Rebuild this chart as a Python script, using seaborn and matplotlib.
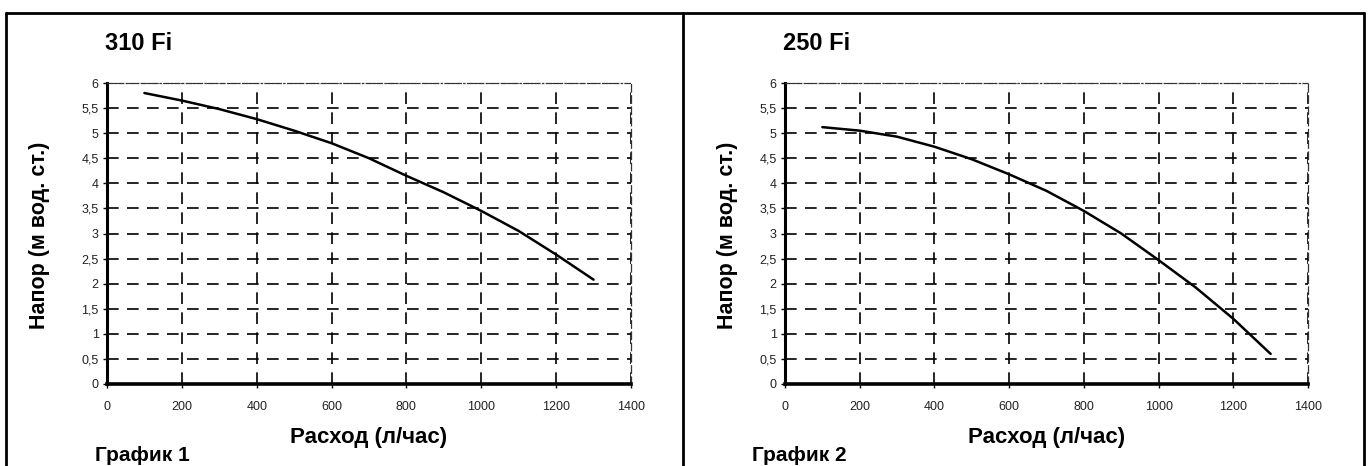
import matplotlib
matplotlib.use("Agg")
import matplotlib.pyplot as plt
import seaborn as sns
import pandas as pd
from matplotlib.lines import Line2D

# ---- data ----
flow_lph = [100, 200, 300, 400, 500, 600, 700, 800, 900, 1000, 1100, 1200, 1300]
head_310fi = [5.80, 5.65, 5.48, 5.28, 5.05, 4.80, 4.50, 4.15, 3.82, 3.45, 3.05, 2.58, 2.08]
head_250fi = [5.12, 5.05, 4.93, 4.73, 4.48, 4.18, 3.85, 3.45, 3.00, 2.47, 1.92, 1.30, 0.60]
panel_titles = ["310 Fi", "250 Fi"]
chart_captions = ["График 1", "График 2"]
x_ticks = [0, 200, 400, 600, 800, 1000, 1200, 1400]
y_ticks = [0, 0.5, 1, 1.5, 2, 2.5, 3, 3.5, 4, 4.5, 5, 5.5, 6]
y_tick_labels = ["0", "0,5", "1", "1,5", "2", "2,5", "3", "3,5", "4", "4,5", "5", "5,5", "6"]
x_label = "Расход (л/час)"
y_label = "Напор (м вод. ст.)"

sns.set_theme(style="white")
plt.rcParams['font.family'] = ['Liberation Sans', 'DejaVu Sans']

W, H = 1370, 466
fig = plt.figure(figsize=(W / 100, H / 100), dpi=100)

def fx(px):
    return px / W

def fy(py):
    return 1 - py / H

# outer frame lines (pixel layout of the scanned page)
for (x0, y0, x1, y1) in [(6, 13, 1364, 13), (6, 13, 6, 480), (1364, 13, 1364, 480), (683, 13, 683, 480)]:
    fig.add_artist(Line2D([fx(x0), fx(x1)], [fy(y0), fy(y1)], color="black", lw=2.0))

panels = [
    dict(left=107, right=631, series=head_310fi, title_x=105, ylab_x=40, cap_x=95),
    dict(left=785, right=1308, series=head_250fi, title_x=783, ylab_x=727, cap_x=752),
]
top_px, bot_px = 83, 384

for i, p in enumerate(panels):
    ax = fig.add_axes([fx(p["left"]), fy(bot_px), fx(p["right"] - p["left"]), (bot_px - top_px) / H])
    df = pd.DataFrame({"flow": flow_lph, "head": p["series"]})
    sns.lineplot(data=df, x="flow", y="head", ax=ax, color="black", lw=1.8)
    ax.set_xlim(0, 1400)
    ax.set_ylim(0, 6)
    ax.set_xticks(x_ticks)
    ax.set_xticklabels([str(v) for v in x_ticks])
    ax.set_yticks(y_ticks)
    ax.set_yticklabels(y_tick_labels)
    ax.tick_params(axis="both", labelsize=9, labelcolor="#222222", length=3, width=1,
                   color="black", pad=3)
    ax.tick_params(axis="y", left=True)
    ax.tick_params(axis="x", bottom=True, pad=9)
    ax.grid(True, color="black", lw=1.2, linestyle=(0, (7, 5)))
    ax.set_axisbelow(True)
    ax.set_xlabel("")
    ax.set_ylabel("")
    ax.spines["left"].set_linewidth(2.2)
    ax.spines["bottom"].set_linewidth(2.6)
    ax.spines["left"].set_color("black")
    ax.spines["bottom"].set_color("black")
    ax.spines["top"].set_linewidth(0.9)
    ax.spines["top"].set_linestyle((0, (4, 2, 1, 2)))
    ax.spines["top"].set_color("#333333")
    ax.spines["right"].set_linewidth(0.9)
    ax.spines["right"].set_linestyle((0, (6, 3)))
    ax.spines["right"].set_color("#333333")

    fig.text(fx(p["title_x"]), fy(44), panel_titles[i], fontsize=17, fontweight="bold",
             ha="left", va="center", color="black")
    fig.text(fx(p["ylab_x"]), fy(235), y_label, fontsize=15.5, fontweight="bold",
             rotation=90, ha="center", va="center", color="black")
    fig.text(fx((p["left"] + p["right"]) / 2), fy(437), x_label, fontsize=16, fontweight="bold",
             ha="center", va="center", color="black")
    fig.text(fx(p["cap_x"]), fy(465), chart_captions[i], fontsize=15, fontweight="bold",
             ha="left", va="bottom", color="black")

fig.savefig("out.png", dpi=100, facecolor="white")
